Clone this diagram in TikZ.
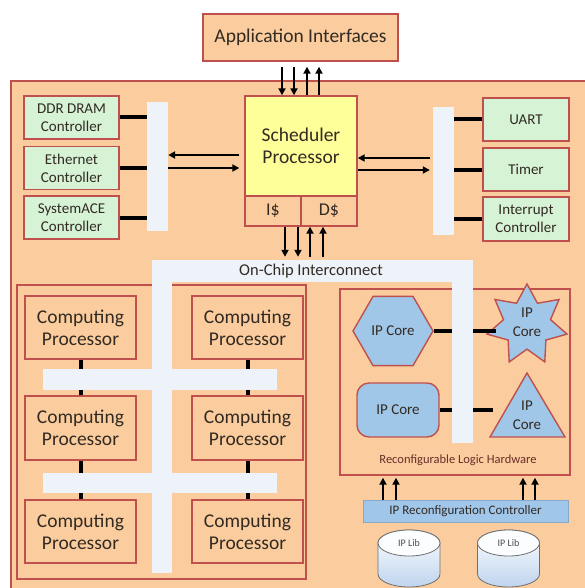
\documentclass[tikz,border=0pt]{standalone}
\usepackage{fontspec}
\setmainfont{Carlito}
\usetikzlibrary{shapes.geometric,arrows.meta}
\definecolor{peach}{RGB}{251,205,158}
\definecolor{redb}{RGB}{192,80,77}
\definecolor{mint}{RGB}{214,243,214}
\definecolor{yel}{RGB}{255,255,153}
\definecolor{busc}{RGB}{238,243,250}
\definecolor{ipblue}{RGB}{160,198,232}
\definecolor{ctrlblue}{RGB}{160,198,234}
\definecolor{txt}{RGB}{50,42,35}
\definecolor{cylblue}{RGB}{190,212,238}
\definecolor{cylline}{RGB}{110,110,110}
\begin{document}
\begin{tikzpicture}[x=1pt,y=-1pt,
  every node/.style={text=txt,inner sep=0pt,align=center},
  box/.style={draw=redb,line width=1.4pt,fill=peach},
  gbox/.style={box,fill=mint,minimum width=95pt,minimum height=43pt,font=\fontsize{15}{18}\selectfont},
  rgbox/.style={box,fill=mint,minimum width=86pt,minimum height=43pt,font=\fontsize{15}{18}\selectfont},
  cpbox/.style={box,minimum width=111pt,minimum height=63pt,font=\fontsize{19.5}{22}\selectfont},
  busbar/.style={fill=busc,draw=none},
  ipshape/.style={draw=redb,line width=1.4pt,fill=ipblue},
  conn/.style={line width=4pt,black},
  arr/.style={line width=1.8pt,black,-{Triangle[length=7pt,width=7pt]}},
  cyl/.style={draw=cylline,line width=0.8pt,top color=white,bottom color=cylblue}
]
\useasboundingbox (0,0) rectangle (585,588);
\clip (0,0) rectangle (585,588);

% outer chip
\draw[box] (11,81) rectangle (620,620);

% application interfaces
\node[box,minimum width=195pt,minimum height=47pt,font=\fontsize{19.5}{22}\selectfont] (app) at (300.5,37.5) {Application Interfaces};

% scheduler
\node[box,fill=yel,minimum width=112pt,minimum height=100pt,font=\fontsize{19.5}{22}\selectfont] (sched) at (301,146) {Scheduler\\Processor};
\node[box,minimum width=56pt,minimum height=30pt,font=\fontsize{18}{20}\selectfont] (icache) at (273,211) {I\$};
\node[box,minimum width=56pt,minimum height=30pt,font=\fontsize{18}{20}\selectfont] (dcache) at (329,211) {D\$};

% side buses
\node[busbar,minimum width=21pt,minimum height=129pt] (lbar) at (157.5,166.5) {};
\node[busbar,minimum width=21pt,minimum height=128pt] (rbar) at (443.5,171) {};

% left peripherals
\node[gbox] (ddr) at (71.5,117.5) {DDR DRAM\\Controller};
\node[gbox] (eth) at (71.5,168) {Ethernet\\Controller};
\node[gbox] (sace) at (71.5,217.5) {SystemACE\\Controller};
% right peripherals
\node[rgbox] (uart) at (526,119.5) {UART};
\node[rgbox] (timer) at (526,169.5) {Timer};
\node[rgbox,minimum height=44pt] (intc) at (526,219) {Interrupt\\Controller};

\foreach \n in {ddr,eth,sace} \draw[conn] (\n.east) -- (\n.east -| lbar.west);
\foreach \n in {uart,timer,intc} \draw[conn] (\n.west) -- (\n.west -| rbar.east);

% scheduler <-> side buses
\draw[arr] ([xshift=-5pt]sched.west |- 0,155) -- (lbar.east |- 0,155);
\draw[arr] (lbar.east |- 0,168) -- ([xshift=-5pt]sched.west |- 0,168);
\draw[arr] ([xshift=-3pt]rbar.west |- 0,158) -- (sched.east |- 0,158);
\draw[arr] (sched.east |- 0,170) -- ([xshift=-3pt]rbar.west |- 0,170);

% app <-> scheduler
\draw[arr] ([yshift=-5pt]app.south -| 282,0) -- (sched.north -| 282,0);
\draw[arr] ([yshift=-5pt]app.south -| 294,0) -- (sched.north -| 294,0);
\draw[arr] (sched.north -| 307,0) -- ([yshift=-5pt]app.south -| 307,0);
\draw[arr] (sched.north -| 319,0) -- ([yshift=-5pt]app.south -| 319,0);

% cluster box and reconfigurable box
\node[box,minimum width=289pt,minimum height=294pt] (cluster) at (161.5,432) {};
\node[box,minimum width=230pt,minimum height=186pt] (rlbox) at (455,382) {};

% on-chip interconnect
\node[busbar,minimum width=321pt,minimum height=22pt] (noc) at (312.5,271) {};
\node[busbar,minimum width=20pt,minimum height=313pt] (lvbar) at (162,416.5) {};
\node[busbar,minimum width=21pt,minimum height=183pt] (rvbar) at (462.5,351.5) {};
\node[busbar,minimum width=234pt,minimum height=21pt] (bus1) at (160,379.5) {};
\node[busbar,minimum width=234pt,minimum height=20pt] (bus2) at (160,483) {};
\node[font=\fontsize{16.5}{18}\selectfont] (noctxt) at (311,271) {On-Chip Interconnect};

% scheduler <-> interconnect
\draw[arr] (icache.south -| 285,0) -- ([yshift=3pt]noc.north -| 285,0);
\draw[arr] (icache.south -| 298,0) -- ([yshift=3pt]noc.north -| 298,0);
\draw[arr] ([yshift=3pt]noc.north -| 310,0) -- (dcache.south -| 310,0);
\draw[arr] ([yshift=3pt]noc.north -| 323,0) -- (dcache.south -| 323,0);

% computing processors
\node[cpbox] (cp11) at (80.5,327.5) {Computing\\Processor};
\node[cpbox] (cp12) at (247.5,327.5) {Computing\\Processor};
\node[cpbox,minimum height=64pt] (cp21) at (80.5,428) {Computing\\Processor};
\node[cpbox,minimum height=64pt] (cp22) at (247.5,428) {Computing\\Processor};
\node[cpbox] (cp31) at (80.5,531.5) {Computing\\Processor};
\node[cpbox] (cp32) at (247.5,531.5) {Computing\\Processor};
\foreach \n in {cp11,cp12} \draw[conn] (\n.south) -- (\n.south |- bus1.north);
\foreach \n in {cp21,cp22} \draw[conn] (\n.north) -- (\n.north |- bus1.south);
\foreach \n in {cp21,cp22} \draw[conn] (\n.south) -- (\n.south |- bus2.north);
\foreach \n in {cp31,cp32} \draw[conn] (\n.north) -- (\n.north |- bus2.south);

% IP cores
\node[regular polygon,regular polygon sides=6,minimum size=80pt,ipshape,font=\fontsize{15}{18}\selectfont] (hex) at (393,331) {IP Core};
\node[star,star points=7,star point ratio=1.7,minimum size=82pt,ipshape] (star) at (527,325) {};
\node[font=\fontsize{15}{19}\selectfont] (startxt) at (527,322) {IP\\Core};
\node[box,fill=ipblue,rounded corners=12pt,minimum width=82pt,minimum height=54pt,font=\fontsize{15}{18}\selectfont] (rrect) at (398,410) {IP Core};
\coordinate (triA) at (527,373);
\coordinate (triB) at (565,437);
\coordinate (triC) at (490,437);
\draw[ipshape] (triA) -- (triB) -- (triC) -- cycle;
\node[font=\fontsize{15}{19}\selectfont] (tritxt) at (527,415) {IP\\Core};
\coordinate (triL) at (493,410);

\draw[conn] (hex.east) -- (hex.east -| rvbar.west);
\draw[conn] (rvbar.east |- hex.east) -- (star.west |- hex.east);
\draw[conn] (rrect.east) -- (rrect.east -| rvbar.west);
\draw[conn] (rvbar.east |- triL) -- (triL);

\node[text=redb!55!black,font=\fontsize{12.5}{15}\selectfont] (rlh) at (458,460) {Reconfigurable Logic Hardware};

% reconfiguration controller
\node[fill=ctrlblue,draw=ctrlblue!85!black,line width=0.4pt,minimum width=205pt,minimum height=22pt,font=\fontsize{13}{15}\selectfont] (ipc) at (465.5,511) {IP Reconfiguration Controller};
\foreach \x in {383,396,523,535} \draw[arr] (ipc.north -| \x,0) -- ([yshift=-2pt]rlbox.south -| \x,0);

% IP libraries
\foreach \cx/\nm in {409/lib1,508.5/lib2}{
  \path[cyl] (\cx-31,543) -- (\cx-31,574) arc[start angle=180,end angle=0,x radius=31,y radius=13] -- (\cx+31,543) arc[start angle=0,end angle=-180,x radius=31,y radius=13] -- cycle;
  \draw[cylline,line width=0.8pt,fill=white!96!cylblue] (\cx,543) ellipse[x radius=31,y radius=13];
  \node[font=\fontsize{10}{12}\selectfont,text=black!70] (\nm) at (\cx,543) {IP Lib};
}
\end{tikzpicture}
\end{document}
